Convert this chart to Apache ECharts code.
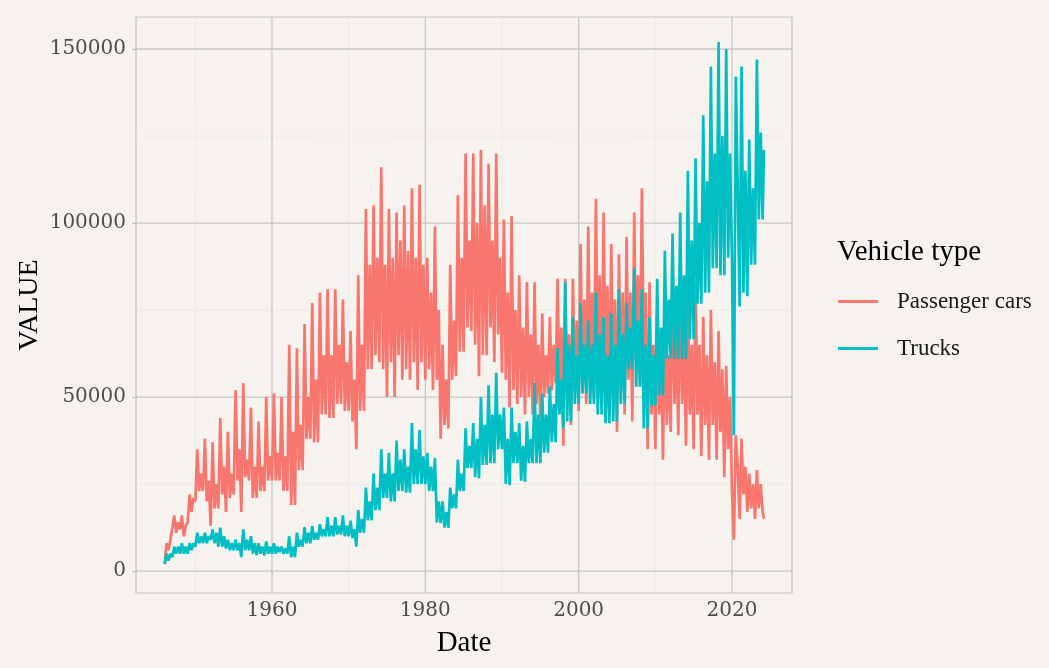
<!DOCTYPE html>
<html><head><meta charset="utf-8">
<script src="https://cdn.jsdelivr.net/npm/echarts@6/dist/echarts.min.js"></script>
<style>html,body{margin:0;padding:0;background:#f6f3ee}#c{width:1049px;height:668px}</style>
</head><body><div id="c"></div>
<script>
// ---- data: per-year samples (January trough, April peak, July dip, October secondary peak) ----
const years = [1946,1947,1948,1949,1950,1951,1952,1953,1954,1955,1956,1957,1958,1959,1960,1961,1962,1963,1964,1965,1966,1967,1968,1969,1970,1971,1972,1973,1974,1975,1976,1977,1978,1979,1980,1981,1982,1983,1984,1985,1986,1987,1988,1989,1990,1991,1992,1993,1994,1995,1996,1997,1998,1999,2000,2001,2002,2003,2004,2005,2006,2007,2008,2009,2010,2011,2012,2013,2014,2015,2016,2017,2018,2019,2020,2021,2022,2023,2024];
const sampleMonths = [1, 4, 7, 10];

const carsJan = [2000,9000,12000,14000,20000,23000,13000,18000,17000,22000,17000,26000,21000,23000,26000,26000,23000,19000,29000,38000,37000,45000,44000,48000,46000,35000,46000,58000,60000,50000,50000,55000,55000,52000,55000,52000,38000,41000,56000,63000,69000,56000,62000,60000,57000,47000,48000,45000,45000,44000,51000,54000,36000,42000,46000,48000,50000,48000,45000,40000,45000,43000,53000,35000,35000,32000,40000,39000,36000,35000,33000,32000,32000,27000,23000,15000,17000,15000,17000];
const carsApr = [8000,16000,16000,22000,35000,38000,37000,44000,40000,52000,54000,47000,43000,50000,51000,50000,65000,64000,71000,77000,80000,81000,81000,78000,69000,85000,104000,105000,116000,104000,103000,105000,110000,111000,90000,99000,65000,88000,108000,120000,120000,121000,117000,120000,101000,102000,85000,83000,83000,74000,73000,84000,84000,84000,94000,99000,107000,103000,94000,91000,96000,103000,110000,83000,75000,77000,85000,85000,78000,83000,73000,75000,69000,59000,9000,38000,28000,29000,null];
const carsJul = [6000,11000,10000,17000,23000,20000,18000,22000,21000,26000,27000,21000,23000,26000,26000,23000,19000,29000,38000,37000,45000,44000,48000,46000,43000,46000,58000,62000,58000,60000,62000,58000,60000,60000,58000,55000,42000,55000,63000,70000,65000,62000,70000,68000,55000,52000,50000,50000,48000,50000,52000,52000,50000,52000,55000,55000,58000,56000,52000,55000,55000,60000,58000,45000,45000,42000,48000,48000,45000,45000,42000,42000,40000,35000,39000,22000,18000,18000,null];
const carsOct = [9000,14000,13000,21000,28000,26000,25000,30000,28000,35000,32000,30000,30000,33000,34000,33000,40000,42000,50000,55000,62000,62000,65000,60000,55000,65000,88000,90000,88000,90000,95000,92000,90000,88000,80000,75000,55000,72000,90000,95000,100000,105000,95000,90000,80000,75000,70000,68000,65000,62000,65000,70000,68000,72000,78000,80000,85000,82000,78000,80000,80000,85000,80000,65000,62000,62000,68000,68000,65000,65000,62000,60000,58000,50000,30000,30000,25000,25000,null];

const trucksJan = [2000,4000,5000,5000,7000,8000,9000,7000,6500,6000,4000,6000,4600,4500,5000,5500,5000,4000,7000,8000,9000,10000,10000,10500,10000,7000,11000,14600,17500,21000,20000,23000,22500,25000,25000,23000,13800,12400,18000,23000,29600,26700,30500,31000,35000,24700,31000,25600,31000,31000,34000,37000,41000,43000,48000,51000,48000,45000,42500,43000,48000,58000,53000,41000,47600,50500,61000,61000,61000,66600,76800,80000,87000,85000,90000,76000,79000,88000,101000];
const trucksApr = [5000,7000,8000,8000,11000,11000,12000,12500,9000,9000,12000,10000,8000,8500,8000,7000,10000,11000,12600,13000,13500,15500,15500,16000,14500,17500,24000,28000,35000,34000,37500,35000,42500,40500,34000,32500,20000,24000,32000,41000,42500,50000,53400,57000,47000,47000,42500,43000,54000,51000,53000,64000,83000,73000,77000,72000,80000,73000,74000,81000,77000,87000,81000,73000,84000,92000,97000,103000,115000,118600,131000,145000,152000,150000,39000,145000,124000,147000,null];
const trucksJul = [3000,5000,5000,6000,8000,8000,8000,7000,6000,6000,6000,5000,5000,5000,5000,5000,4000,7000,8000,9000,10000,10000,10500,10000,9500,11000,14600,17500,21000,20000,23000,22500,25000,25000,23000,14000,12500,18000,23000,29600,27000,30500,31000,35000,25000,31000,26000,31000,31000,34000,37000,45000,43000,48000,51000,48000,45000,42500,43000,48000,58000,53000,41000,47600,50500,61000,61000,61000,66600,76800,80000,87000,85000,90000,142000,80000,88000,101000,null];
const trucksOct = [5000,7000,7000,8000,10000,10000,11000,10000,8000,8000,9000,8000,7000,7000,7000,6500,7000,9000,11000,11000,12000,13000,13000,13000,12000,15000,20000,24000,28000,28000,32000,30000,35000,33000,30000,20000,17000,22000,28000,36000,38000,42000,45000,45000,38000,40000,36000,38000,45000,45000,48000,55000,65000,62000,65000,65000,68000,62000,65000,68000,70000,72000,65000,62000,70000,78000,82000,85000,95000,100000,112000,120000,125000,120000,110000,115000,110000,126000,null];

const lastMonth = {year: 2024, month: 3};
const carsLast = 15000;
const trucksLast = 121000;

const seriesNames = ['Passenger cars', 'Trucks'];
const xTicks = [1960, 1980, 2000, 2020];
const xMinor = [1950, 1970, 1990, 2010];
const yTicks = [0, 50000, 100000, 150000];
const yMinor = [25000, 75000, 125000];

// ---- build ----
const X_MIN = 1942.26, X_MAX = 2027.83, Y_MIN = -6300, Y_MAX = 159200;
const FONT = 'Liberation Serif';
function toDate(y, m) { return y + (m - 1) / 12; }
function build(cols, lastVal) {
  const out = [];
  years.forEach((y, i) => {
    cols.forEach((col, k) => {
      if (col[i] != null) out.push([toDate(y, sampleMonths[k]), col[i]]);
    });
  });
  out.push([toDate(lastMonth.year, lastMonth.month), lastVal]);
  return out;
}
function gridLine(pts, color, w) {
  return {type: 'line', data: pts, symbol: 'none', silent: true, z: 1, animation: false,
    lineStyle: {color: color, width: w}, tooltip: {show: false}};
}
const gridSeries = [];
yMinor.forEach(v => gridSeries.push(gridLine([[X_MIN, v], [X_MAX, v]], '#e7e4df', 0.7)));
xMinor.forEach(v => gridSeries.push(gridLine([[v, Y_MIN], [v, Y_MAX]], '#e7e4df', 0.7)));
yTicks.forEach(v => gridSeries.push(gridLine([[X_MIN, v], [X_MAX, v]], '#c9c7c4', 1.3)));
xTicks.forEach(v => gridSeries.push(gridLine([[v, Y_MIN], [v, Y_MAX]], '#c9c7c4', 1.3)));

const tickFont = {color: '#4d4d4d', fontFamily: 'DejaVu Serif', fontSize: 20};

const chart = echarts.init(document.getElementById('c'), null, {renderer: 'canvas'});
chart.setOption({
  backgroundColor: '#f6f3ee',
  animation: false,
  title: {text: 'Vehicle type', left: 837, top: 238, padding: 0,
    textStyle: {fontFamily: FONT, fontSize: 29, fontWeight: 'normal', color: '#000'}},
  legend: {data: seriesNames, orient: 'vertical', left: 838, top: 290, padding: 0,
    itemWidth: 40, itemHeight: 3, itemGap: 24, icon: 'rect',
    textStyle: {fontFamily: FONT, fontSize: 23, color: '#1a1a1a', padding: [0, 0, 0, 14]}},
  grid: {left: 136, top: 17, width: 656, height: 576, show: true,
    borderColor: '#c4c2bf', borderWidth: 1.2, backgroundColor: 'transparent'},
  xAxis: {type: 'value', min: X_MIN, max: X_MAX,
    splitLine: {show: false}, axisLine: {show: false},
    axisTick: {show: true, customValues: xTicks, length: 4, lineStyle: {color: '#c4c2bf', width: 1.2}},
    axisLabel: Object.assign({customValues: xTicks, margin: 8, formatter: v => String(v)}, tickFont),
    name: 'Date', nameLocation: 'middle', nameGap: 36, nameMoveOverlap: false,
    nameTextStyle: {fontFamily: FONT, fontSize: 29, color: '#000'}},
  yAxis: {type: 'value', min: Y_MIN, max: Y_MAX,
    splitLine: {show: false}, axisLine: {show: false},
    axisTick: {show: true, customValues: yTicks, length: 4, lineStyle: {color: '#c4c2bf', width: 1.2}},
    axisLabel: Object.assign({customValues: yTicks, margin: 10, formatter: v => String(v)}, tickFont),
    name: 'VALUE', nameLocation: 'middle', nameGap: 92, nameRotate: 90, nameMoveOverlap: false,
    nameTextStyle: {fontFamily: FONT, fontSize: 28, color: '#000'}},
  series: gridSeries.concat([
    {name: seriesNames[0], type: 'line', data: build([carsJan, carsApr, carsJul, carsOct], carsLast),
      symbol: 'none', showSymbol: false, z: 3, color: '#F8766D',
      lineStyle: {color: '#F8766D', width: 2.7}},
    {name: seriesNames[1], type: 'line', data: build([trucksJan, trucksApr, trucksJul, trucksOct], trucksLast),
      symbol: 'none', showSymbol: false, z: 4, color: '#00BFC4',
      lineStyle: {color: '#00BFC4', width: 2.7}}
  ])
});
</script></body></html>
